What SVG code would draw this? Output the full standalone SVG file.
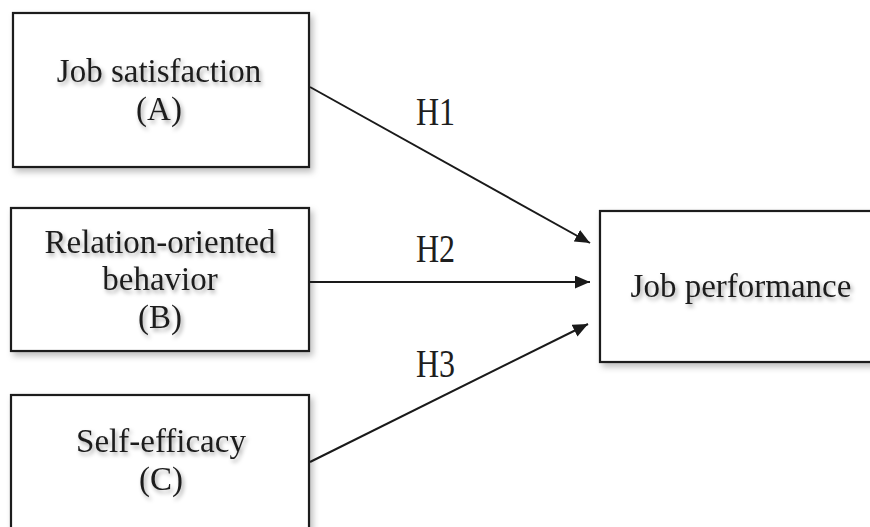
<svg xmlns="http://www.w3.org/2000/svg" width="870" height="527" viewBox="0 0 870 527">
  <style>
    .box { fill: #ffffff; stroke: #1a1a1a; stroke-width: 2.2; filter: url(#boxShadow); }
    .label { font-family: "Liberation Serif", "Times New Roman", serif; font-size: 33px; fill: #1e1e1e; text-anchor: middle; filter: url(#textShadow); }
    .hlabel { font-family: "Liberation Serif", "Times New Roman", serif; font-size: 32px; fill: #1e1e1e; }
    .edge { stroke: #1a1a1a; stroke-width: 2; fill: none; marker-end: url(#arrow); }
  </style>
  <defs>
    <filter id="boxShadow" x="-10%" y="-10%" width="125%" height="130%">
      <feDropShadow dx="3" dy="4" stdDeviation="3" flood-color="#000" flood-opacity="0.25"/>
    </filter>
    <filter id="textShadow" x="-10%" y="-30%" width="125%" height="170%">
      <feDropShadow dx="2" dy="3" stdDeviation="2" flood-color="#000" flood-opacity="0.35"/>
    </filter>
    <marker id="arrow" markerUnits="userSpaceOnUse" markerWidth="16" markerHeight="14" refX="15" refY="6.5" orient="auto">
      <path d="M0,0 L15,6.5 L0,13 Z" fill="#1a1a1a"/>
    </marker>
  </defs>
  <rect x="0" y="0" width="870" height="527" fill="#ffffff"/>

  <g id="node-A">
    <rect class="box" x="13" y="13" width="296" height="154"/>
    <text class="label" x="159" y="82">Job satisfaction</text>
    <text class="label" x="159" y="120">(A)</text>
  </g>

  <g id="node-B">
    <rect class="box" x="11" y="208" width="298" height="143"/>
    <text class="label" x="160" y="253">Relation-oriented</text>
    <text class="label" x="160" y="290">behavior</text>
    <text class="label" x="160" y="328">(B)</text>
  </g>

  <g id="node-C">
    <rect class="box" x="11" y="395" width="298" height="145"/>
    <text class="label" x="161" y="452">Self-efficacy</text>
    <text class="label" x="161" y="490">(C)</text>
  </g>

  <g id="node-D">
    <rect class="box" x="600" y="211" width="285" height="151"/>
    <text class="label" x="741" y="297">Job performance</text>
  </g>

  <g id="connectors">
    <line class="edge" x1="310" y1="87" x2="590" y2="243"/>
    <line class="edge" x1="310" y1="282" x2="590" y2="282"/>
    <line class="edge" x1="310" y1="462" x2="588" y2="324"/>
    <text class="hlabel" transform="translate(416,125) scale(1,1.25)">H1</text>
    <text class="hlabel" transform="translate(416,262) scale(1,1.25)">H2</text>
    <text class="hlabel" transform="translate(416,377) scale(1,1.25)">H3</text>
  </g>
</svg>
